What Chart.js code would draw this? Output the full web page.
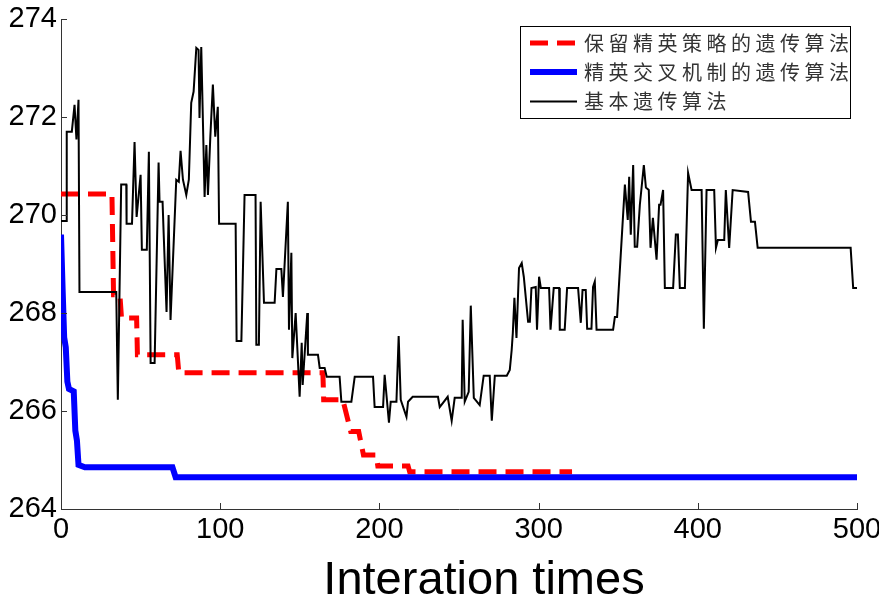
<!DOCTYPE html>
<html>
<head>
<meta charset="utf-8">
<script src="https://cdn.jsdelivr.net/npm/chart.js@4.4.0/dist/chart.umd.min.js"></script>
<style>
  html, body { margin: 0; padding: 0; background: #fff; }
  #wrap { width: 879px; height: 600px; }
</style>
</head>
<body>
<div id="wrap"><canvas id="gaChart" width="879" height="600"></canvas></div>
<script>
// series labels
const seriesNames = ['保留精英策略的遗传算法', '精英交叉机制的遗传算法', '基本遗传算法'];
const xTitle = 'Interation times';
const xTicks = [0, 100, 200, 300, 400, 500];
const yTicks = [264, 266, 268, 270, 272, 274];

// elite-retention GA (red dashed)
const eliteIter = [0, 32, 33, 37, 38, 47.5, 48, 73, 74, 164.5, 165, 177, 182, 187, 190, 198, 199, 218, 219, 321];
const eliteFitness = [270.43, 270.43, 268.37, 268.37, 267.90, 267.90, 267.15, 267.15, 266.78, 266.78, 266.23, 266.23, 265.58, 265.58, 265.10, 265.10, 264.88, 264.88, 264.76, 264.76];

// elite crossover GA (blue)
const crossIter = [0, 1, 2, 3, 4, 5, 8, 9, 10, 11, 15, 70, 72, 500];
const crossFitness = [269.6, 268.5, 267.5, 267.3, 266.6, 266.45, 266.4, 265.6, 265.4, 264.9, 264.85, 264.85, 264.65, 264.65];

// basic GA (black)
const basicIter = [0, 3.6, 3.6, 6.8, 8.5, 9.7, 11.0, 11.6, 34.7, 35.7, 37.8, 41.0, 41.2, 44.6, 46.2, 47.5, 50.0, 50.8, 53.9, 55.2,
  56.3, 58.8, 61.3, 61.9, 63.8, 64.4, 66.3, 67.6, 68.8, 72.4, 74.0, 75.1, 76.6, 78.7, 80.3, 81.8, 83.3, 85.0, 86.4, 87.0,
  88.1, 90.2, 91.3, 92.3, 93.8, 95.4, 96.9, 98.5, 99.3, 109.7, 110.3, 113.3, 115.3, 122.2, 122.7, 124.3, 125.4, 127.5, 134.2, 135.3,
  138.4, 139.4, 142.5, 143.2, 144.7, 145.3, 147.4, 149.9, 151.2, 151.8, 154.7, 155.1, 161.4, 162.5, 165.6, 166.9, 175.0, 176.1, 182.4, 184.5,
  196.0, 197.0, 202.3, 203.3, 206.0, 207.1, 210.7, 212.1, 213.4, 217.0, 218.0, 220.9, 236.8, 237.9, 242.9, 245.4, 247.3, 251.7, 252.3, 253.6,
  256.1, 257.4, 259.3, 263.0, 265.5, 269.3, 270.6, 272.5, 280.0, 281.9, 283.1, 283.8, 284.8, 286.1, 287.7, 289.4, 290.7, 293.4, 294.5, 295.5,
  298.2, 299.0, 300.3, 301.4, 306.6, 307.5, 309.5, 312.9, 313.3, 316.4, 317.9, 324.8, 326.5, 327.6, 329.6, 330.5, 333.2, 334.2, 335.3, 336.4,
  346.8, 347.9, 349.3, 350.6, 354.2, 356.0, 356.9, 357.9, 359.4, 360.4, 361.9, 363.6, 366.1, 367.4, 369.2, 370.3, 371.8, 374.1, 375.7, 376.6,
  378.2, 379.3, 384.5, 386.2, 387.5, 388.7, 391.9, 393.9, 396.1, 402.4, 403.8, 405.5, 410.3, 411.4, 412.6, 416.6, 417.6, 419.7, 421.9, 431.6,
  433.4, 435.9, 437.6, 496.0, 497.6, 500];
const basicFitness = [269.88, 269.88, 271.70, 271.70, 272.25, 271.54, 272.35, 268.43, 268.43, 266.23, 270.62, 270.62, 269.82, 269.82, 271.49, 269.96, 270.82, 269.29, 269.29, 271.29,
  266.98, 266.98, 271.07, 270.27, 270.27, 269.70, 268.02, 270.00, 267.86, 270.72, 270.68, 271.31, 270.72, 270.41, 270.72, 272.29, 272.52, 273.41, 273.37, 271.98,
  273.43, 270.37, 271.43, 270.41, 271.60, 272.66, 271.60, 272.21, 269.82, 269.82, 267.43, 267.43, 270.41, 270.41, 267.35, 267.35, 270.27, 268.21, 268.21, 268.90,
  268.90, 268.33, 270.27, 267.66, 269.23, 267.08, 268.00, 266.29, 267.39, 266.53, 268.00, 267.15, 267.15, 266.88, 266.88, 266.70, 266.70, 266.19, 266.19, 266.70,
  266.70, 266.08, 266.08, 266.74, 265.76, 266.19, 266.19, 267.53, 266.23, 265.88, 266.19, 266.29, 266.29, 266.08, 266.29, 265.80, 266.27, 266.27, 267.86, 266.19,
  266.39, 268.15, 266.27, 266.12, 266.72, 266.72, 265.80, 266.72, 266.72, 266.84, 267.25, 267.59, 268.31, 267.49, 268.92, 269.02, 268.74, 267.82, 267.82, 268.51,
  268.53, 267.66, 268.74, 268.51, 268.51, 267.66, 268.51, 268.51, 267.66, 267.66, 268.51, 268.51, 267.80, 268.47, 268.47, 267.68, 267.68, 268.53, 268.64, 267.66,
  267.66, 267.92, 267.92, 268.64, 270.62, 269.90, 270.78, 269.60, 271.02, 269.35, 269.35, 270.21, 271.02, 270.56, 270.51, 269.33, 269.94, 269.09, 270.21, 270.21,
  270.51, 268.51, 268.51, 269.60, 269.60, 268.51, 268.51, 270.86, 270.51, 270.51, 267.68, 270.51, 270.51, 269.33, 269.49, 269.49, 270.51, 269.33, 270.51, 270.47,
  269.86, 269.86, 269.33, 269.33, 268.51, 268.51];

const toPoints = (xs, ys) => xs.map((x, i) => ({ x: x, y: ys[i] }));

// inward tick marks, legend box and x title drawn on top
const decorPlugin = {
  id: 'decor',
  afterDraw(chart) {
    const ctx = chart.ctx;
    const xs = chart.scales.x;
    const ys = chart.scales.y;
    const area = chart.chartArea;
    ctx.save();
    ctx.strokeStyle = '#333';
    ctx.lineWidth = 1;
    ctx.beginPath();
    yTicks.forEach(v => {
      const py = Math.round(ys.getPixelForValue(v)) + 0.5;
      ctx.moveTo(area.left, py);
      ctx.lineTo(area.left + 6, py);
    });
    xTicks.forEach(v => {
      const px = Math.round(xs.getPixelForValue(v)) + 0.5;
      ctx.moveTo(px, area.bottom);
      ctx.lineTo(px, area.bottom - 6);
    });
    ctx.stroke();

    // legend
    const lx = 520, ly = 26, lw = 330, lh = 92;
    ctx.fillStyle = '#fff';
    ctx.fillRect(lx, ly, lw, lh);
    ctx.strokeStyle = '#000';
    ctx.strokeRect(lx + 0.5, ly + 0.5, lw, lh);
    const rows = [43, 72, 101.5];
    chart.data.datasets.forEach((ds, i) => {
      const ry = rows[i];
      ctx.beginPath();
      ctx.strokeStyle = ds.borderColor;
      ctx.lineWidth = ds.borderWidth;
      ctx.setLineDash(ds.borderDash || []);
      ctx.moveTo(530, ry);
      ctx.lineTo(577, ry);
      ctx.stroke();
      ctx.setLineDash([]);
      ctx.fillStyle = '#333';
      ctx.font = '20px "Noto Sans CJK SC"';
      ctx.textBaseline = 'middle';
      ctx.textAlign = 'left';
      const chars = Array.from(ds.label);
      chars.forEach((c, k) => ctx.fillText(c, 584 + k * 24.5, ry));
    });

    // x axis title
    ctx.fillStyle = '#000';
    ctx.font = '47px "Liberation Sans", Arial, sans-serif';
    ctx.textAlign = 'center';
    ctx.textBaseline = 'alphabetic';
    ctx.fillText(xTitle, 484, 594);
    ctx.restore();
  }
};

const ctx = document.getElementById('gaChart').getContext('2d');

const gaChart = new Chart(ctx, {
    type: 'line',
    data: {
        datasets: [{
            label: seriesNames[0],
            data: toPoints(eliteIter, eliteFitness),
            borderColor: '#ff0000',
            borderWidth: 5,
            borderDash: [18, 9],
            order: 2
        }, {
            label: seriesNames[1],
            data: toPoints(crossIter, crossFitness),
            borderColor: '#0000ff',
            borderWidth: 6,
            order: 1
        }, {
            label: seriesNames[2],
            data: toPoints(basicIter, basicFitness),
            borderColor: '#000000',
            borderWidth: 2,
            order: 0
        }]
    },
    options: {
        responsive: false,
        animation: false,
        events: [],
        layout: {
            padding: { left: 0, top: 19, right: 22, bottom: 0 }
        },
        elements: {
            point: { radius: 0 },
            line: { tension: 0, fill: false, borderJoinStyle: 'miter', borderCapStyle: 'butt' }
        },
        plugins: {
            legend: { display: false },
            tooltip: { enabled: false }
        },
        scales: {
            x: {
                type: 'linear',
                min: 0,
                max: 500,
                afterFit: s => { s.height = 91; s.paddingLeft = 0; s.paddingRight = 0; },
                afterBuildTicks: s => { s.ticks = xTicks.map(v => ({ value: v })); },
                grid: { display: false, drawTicks: false },
                border: { display: true, color: '#333', width: 1 },
                ticks: {
                    padding: 4,
                    color: '#000',
                    maxRotation: 0,
                    font: { family: '"Liberation Sans Narrow", "Liberation Sans", sans-serif', size: 29 }
                }
            },
            y: {
                type: 'linear',
                min: 264,
                max: 274,
                afterFit: s => { s.width = 61; s.paddingTop = 0; s.paddingBottom = 0; },
                afterBuildTicks: s => { s.ticks = yTicks.map(v => ({ value: v })); },
                grid: { display: false, drawTicks: false },
                border: { display: true, color: '#333', width: 1 },
                ticks: {
                    padding: 4,
                    color: '#000',
                    font: { family: '"Liberation Sans Narrow", "Liberation Sans", sans-serif', size: 29 }
                }
            }
        }
    },
    plugins: [decorPlugin]
});
</script>
</body>
</html>
